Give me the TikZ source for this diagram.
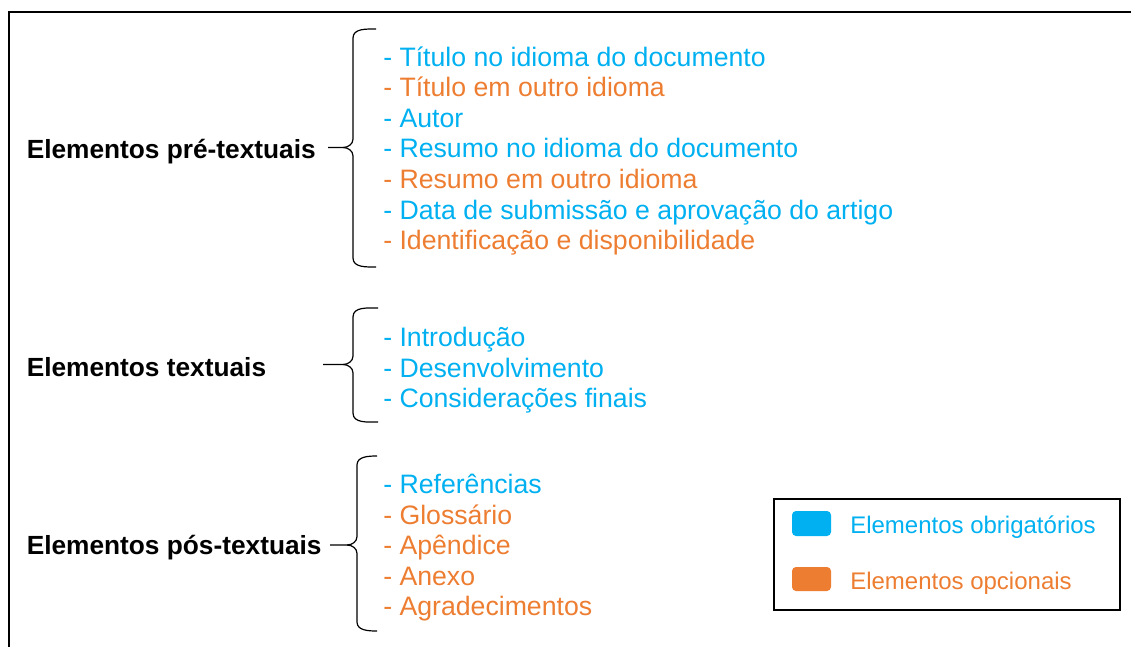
\documentclass[tikz,border=0pt]{standalone}
\usepackage{xcolor}
\usepackage{fontspec}
\setmainfont{Liberation Sans}
\usepackage{tikz}

\definecolor{obrig}{RGB}{0,176,240}
\definecolor{opc}{RGB}{237,125,49}

\begin{document}
\begin{tikzpicture}[x=0.75pt, y=-0.75pt,
    grupo/.style={anchor=base west, inner sep=0pt, font=\bfseries\fontsize{19.7}{24}\selectfont},
    item/.style={anchor=base west, inner sep=0pt, font=\fontsize{20}{24}\selectfont},
    obr/.style={item, text=obrig},
    opt/.style={item, text=opc},
    chave/.style={line width=0.9pt},
    legenda/.style={anchor=base west, inner sep=0pt, font=\fontsize{18}{22}\selectfont}
    ]
    \useasboundingbox (0,0) rectangle (1131,646);
    % moldura (cortada a direita e embaixo)
    \draw[line width=1.7pt] (9,660) -- (9,12) -- (1140,12);

    % elementos pre-textuais
    \node[grupo] (pre) at (26.5,158) {Elementos pré-textuais};
    \node[obr] (pre1) at (383,66) {- Título no idioma do documento};
    \node[opt] (pre2) at (383,96.6) {- Título em outro idioma};
    \node[obr] (pre3) at (383,127.2) {- Autor};
    \node[obr] (pre4) at (383,157.8) {- Resumo no idioma do documento};
    \node[opt] (pre5) at (383,188.4) {- Resumo em outro idioma};
    \node[obr] (pre6) at (383,219) {- Data de submissão e aprovação do artigo};
    \node[opt] (pre7) at (383,249.6) {- Identificação e disponibilidade};
    \coordinate (ponta1) at (328,147.5);
    \draw[chave] (376,29) to[out=180,in=90] (353,38) -- (353,139)
      to[out=-90,in=0] (343,147.5) -- (ponta1);
    \draw[chave] (343,147.5) to[out=0,in=90] (353,156) -- (353,258)
      to[out=-90,in=180] (376,267);

    % elementos textuais
    \node[grupo] (txt) at (26.5,376.5) {Elementos textuais};
    \node[obr] (txt1) at (383,346.5) {- Introdução};
    \node[obr] (txt2) at (383,377) {- Desenvolvimento};
    \node[obr] (txt3) at (383,407.5) {- Considerações finais};
    \coordinate (ponta2) at (323,364.5);
    \draw[chave] (378,308) to[out=180,in=90] (353,317) -- (353,356)
      to[out=-90,in=0] (343,364.5) -- (ponta2);
    \draw[chave] (343,364.5) to[out=0,in=90] (353,373) -- (353,413)
      to[out=-90,in=180] (378,422);

    % elementos pos-textuais
    \node[grupo] (pos) at (26.5,554) {Elementos pós-textuais};
    \node[obr] (pos1) at (383,493.5) {- Referências};
    \node[opt] (pos2) at (383,524) {- Glossário};
    \node[opt] (pos3) at (383,554.5) {- Apêndice};
    \node[opt] (pos4) at (383,585) {- Anexo};
    \node[opt] (pos5) at (383,615.5) {- Agradecimentos};
    \coordinate (ponta3) at (330,545);
    \draw[chave] (377,456) to[out=180,in=90] (357,465) -- (357,536.5)
      to[out=-90,in=0] (347,545) -- (ponta3);
    \draw[chave] (347,545) to[out=0,in=90] (357,553.5) -- (357,622)
      to[out=-90,in=180] (377,631);

    % legenda
    \draw[line width=1.7pt] (774,499) rectangle (1120,610);
    \fill[obrig, rounded corners=3pt] (792,511) rectangle (831,536);
    \fill[opc, rounded corners=3pt] (792,567) rectangle (831,591);
    \node[legenda, text=obrig] (leg1) at (850,533.5) {Elementos obrigatórios};
    \node[legenda, text=opc] (leg2) at (850,589.5) {Elementos opcionais};
\end{tikzpicture}
\end{document}
